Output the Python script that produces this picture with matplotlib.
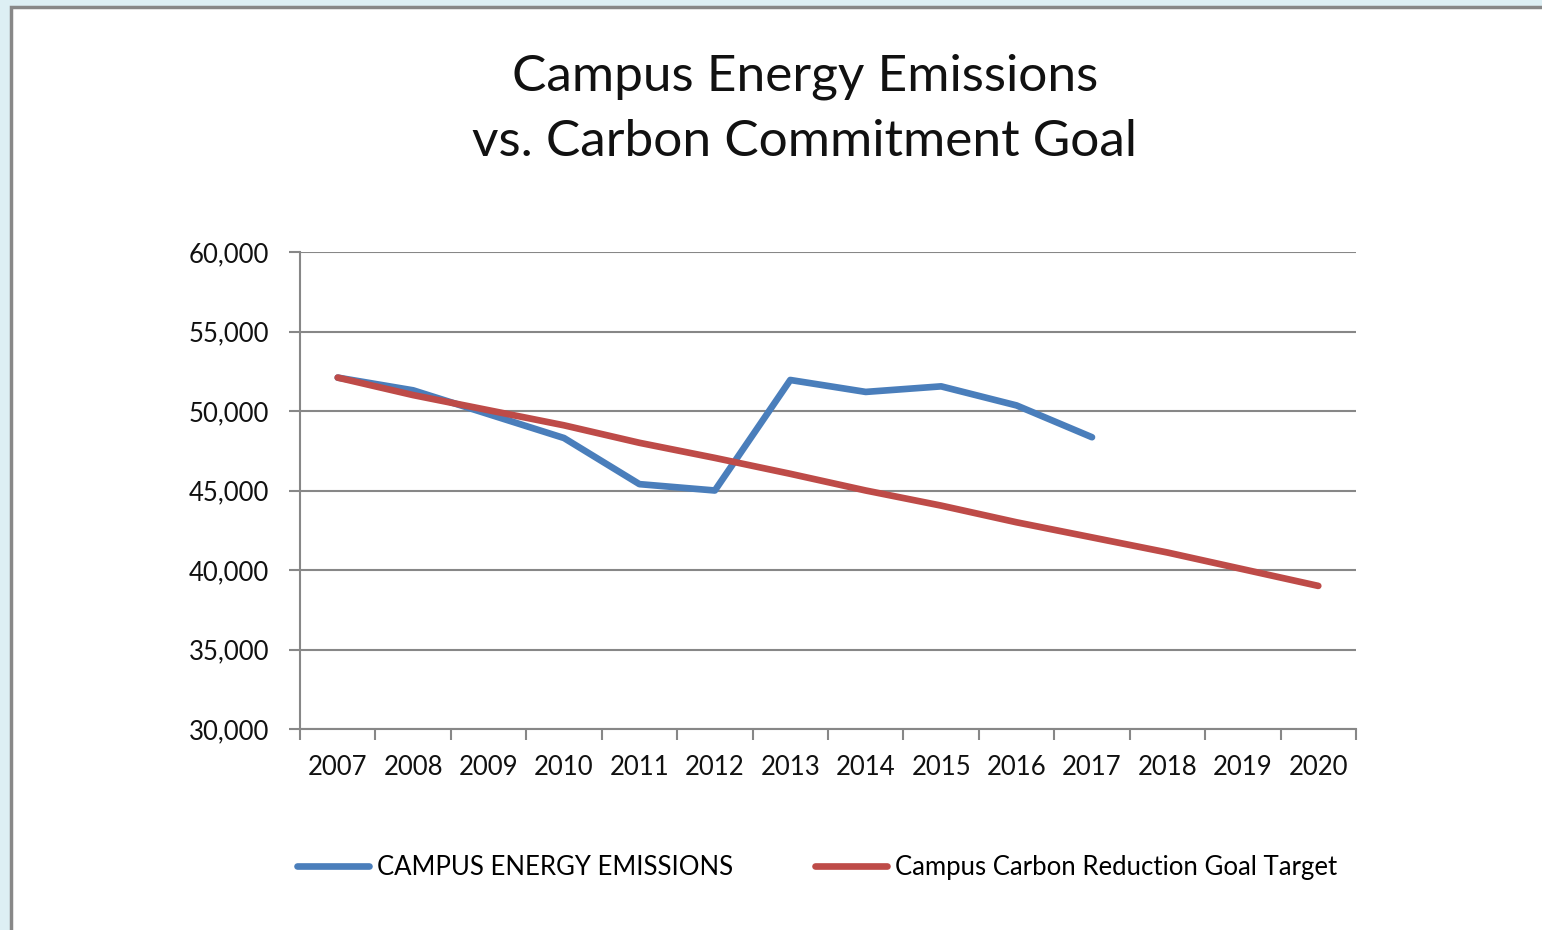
import matplotlib.pyplot as plt
import numpy as np
from matplotlib.patches import Rectangle
from matplotlib.ticker import FuncFormatter, FixedLocator

plt.rcParams['font.family'] = ['Lato', 'DejaVu Sans']

# Data
years = ['2007', '2008', '2009', '2010', '2011', '2012', '2013',
         '2014', '2015', '2016', '2017', '2018', '2019', '2020']
emissions = [52100, 51300, 49800, 48300, 45400, 45000, 51950,
             51200, 51550, 50350, 48350]
goal = [52100, 51000, 50050, 49100, 48000, 47050, 46050,
        45000, 44050, 43000, 42050, 41100, 40050, 39000]

blue = '#4a7ebb'
red = '#be4b48'
grid_c = '#878787'

fig = plt.figure(figsize=(15.42, 9.3), dpi=100)
fig.patch.set_facecolor('#ddeff4')
# white chart area, grey frame visible on top and left only
fig.add_artist(Rectangle((11 / 1542, -0.05), 1.1, 1.05 - 7 / 930,
                         transform=fig.transFigure, facecolor='white',
                         edgecolor='#888888', linewidth=2.5, zorder=0))

ax = fig.add_axes([300 / 1542, 1 - 729 / 930, 1056 / 1542, 477 / 930])
ax.set_facecolor('none')

x = np.arange(len(years))
ax.plot(x[:len(emissions)], emissions, color=blue, lw=4.8,
        solid_capstyle='round', solid_joinstyle='round',
        label='CAMPUS ENERGY EMISSIONS', zorder=3)
ax.plot(x, goal, color=red, lw=4.8, solid_capstyle='round',
        solid_joinstyle='round', label='Campus Carbon Reduction Goal Target',
        zorder=3)

ax.set_xlim(-0.5, len(years) - 0.5)
ax.set_ylim(30000, 60000)
ax.set_yticks(np.arange(30000, 60001, 5000))
ax.yaxis.set_major_formatter(FuncFormatter(lambda v, p: f'{int(v):,}'))
ax.yaxis.grid(True, color=grid_c, lw=1.5)
ax.set_axisbelow(True)

ax.xaxis.set_major_locator(FixedLocator(np.arange(-0.5, len(years), 1.0)))
ax.xaxis.set_minor_locator(FixedLocator(x))
ax.set_xticklabels([], minor=False)
ax.set_xticklabels(years, minor=True)
ax.tick_params(axis='x', which='major', length=8, width=1.5, color=grid_c)
ax.tick_params(axis='x', which='minor', length=0, pad=19, labelsize=18.5,
               labelcolor='#111111')
ax.tick_params(axis='y', length=8, width=1.5, color=grid_c, pad=14,
               labelsize=18.5, labelcolor='#111111')

for s in ['top', 'right']:
    ax.spines[s].set_visible(False)
for s in ['left', 'bottom']:
    ax.spines[s].set_color(grid_c)
    ax.spines[s].set_linewidth(1.5)

fig.text(805 / 1542, 1 - 77 / 930, 'Campus Energy Emissions', ha='center',
         va='center', fontsize=37, color='#111111')
fig.text(805 / 1542, 1 - 142 / 930, 'vs. Carbon Commitment Goal', ha='center',
         va='center', fontsize=37, color='#111111')

fig.legend(loc='center', bbox_to_anchor=(817 / 1542, 1 - 867 / 930), ncol=2,
           frameon=False, fontsize=18.5, handlelength=2.8, handletextpad=0.3,
           columnspacing=3.2)

fig.savefig('out.png', dpi=100)
